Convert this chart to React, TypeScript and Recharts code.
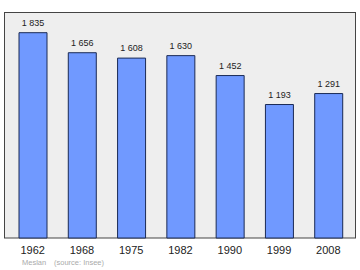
import React from 'react';
import { BarChart, Bar, XAxis, YAxis, LabelList, usePlotArea } from 'recharts';

const years = ['1962', '1968', '1975', '1982', '1990', '1999', '2008'];
const population = [1835, 1656, 1608, 1630, 1452, 1193, 1291];
const footerCommune = 'Meslan';
const footerSource = '(source: Insee)';

const data = years.map((y, i) => ({ year: y, pop: population[i] }));

const FONT = 'Liberation Sans, Arial, sans-serif';
const fmt = (v: any) => String(v).replace(/\B(?=(\d{3})+(?!\d))/g, ' ');

function Frame() {
  const area = usePlotArea();
  if (!area) return null;
  return <rect x={area.x} y={area.y} width={area.width} height={area.height} fill="#eeeeee" stroke="none" />;
}

function FrameBorder() {
  const area = usePlotArea();
  if (!area) return null;
  return (
    <rect x={area.x + 0.5} y={area.y + 0.5} width={area.width - 1} height={area.height - 0.5} fill="none" stroke="#444" strokeWidth={1} />
  );
}

const BarLabel = (props: any) => {
  const { x, y, width, value } = props;
  return (
    <text x={Number(x) + Number(width) / 2} y={Number(y) - 7} textAnchor="middle" fontSize={9} fill="#222" fontFamily={FONT}>
      {fmt(value)}
    </text>
  );
};

export default function App() {
  return (
    <div style={{ position: 'absolute', left: 0, top: 0, width: 360, height: 270, background: '#fff', fontFamily: FONT }}>
      <BarChart width={360} height={270} data={data} margin={{ top: 12, right: 4, bottom: 12, left: 4 }} barSize={28}>
        <Frame />
        <XAxis
          dataKey="year"
          axisLine={false}
          tickLine={false}
          tickSize={0}
          tickMargin={8}
          height={20}
          padding={{ left: 4, right: 3 }}
          tick={{ fill: '#222', fontSize: 11, fontFamily: FONT }}
          interval={0}
        />
        <YAxis hide domain={[0, 2020]} />
        <Bar dataKey="pop" fill="#7099ff" stroke="#1a2a55" strokeWidth={1} isAnimationActive={false}>
          <LabelList dataKey="pop" content={BarLabel} />
        </Bar>
        <FrameBorder />
        <text x={22} y={265} fontSize={7.5} fill="#aaaaaa" fontFamily={FONT}>{footerCommune}</text>
        <text x={54} y={265} fontSize={7.5} fill="#aaaaaa" fontFamily={FONT}>{footerSource}</text>
      </BarChart>
    </div>
  );
}
